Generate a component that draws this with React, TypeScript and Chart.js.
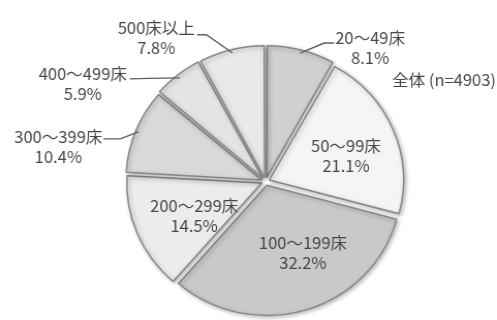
import React, { useEffect, useRef } from "react";
import { Chart, registerables } from "chart.js";

Chart.register(...registerables);

const categories = ["20～49床", "50～99床", "100～199床", "200～299床", "300～399床", "400～499床", "500床以上"];
const shares = [8.1, 21.1, 32.2, 14.5, 10.4, 5.9, 7.8];
const percentLabels = ["8.1%", "21.1%", "32.2%", "14.5%", "10.4%", "5.9%", "7.8%"];
const fills = ["#d0d0d0", "#f5f5f5", "#c9c9c9", "#ececec", "#d9d9d9", "#e4e4e4", "#e9e9e9"];
const totalLabel = "全体 (n=4903)";

const FONT = '16px "Noto Sans CJK JP", "Noto Sans", sans-serif';
const TEXT_COLOR = "#474747";
const OFFSET = 16; // Chart.js translates by offset/4
const CANVAS_W = 481;
const SX = 497 / CANVAS_W; // horizontal stretch of the original picture

// label layout (screen px): inside labels (shift from polar anchor) or outside labels with leader lines
const labelLayout: Record<number, any> = {
  0: { outside: true, line: [[24, -10], [34, -10]], text: [70, -5] },
  1: { outside: false, shift: [0, 7] },
  2: { outside: false, shift: [12, -9] },
  3: { outside: false, shift: [9, 2] },
  4: { outside: true, line: [[-18, 7], [-35, 7]], text: [-80, 15] },
  5: { outside: true, line: [[-30, 0.5], [-50, 1]], text: [-97, 6] },
  6: { outside: true, line: [[-26, -18], [-35, -18]], text: [-76, -15] },
};

const shadowPlugin = {
  id: "softShadow",
  beforeDatasetsDraw(chart: any) {
    const ctx = chart.ctx;
    ctx.save();
    ctx.shadowColor = "rgba(0,0,0,0.28)";
    ctx.shadowBlur = 4;
    ctx.shadowOffsetX = 1.5;
    ctx.shadowOffsetY = 1.5;
  },
  afterDatasetsDraw(chart: any) {
    chart.ctx.restore();
  },
};

const labelPlugin = {
  id: "pieLabels",
  afterDatasetsDraw(chart: any) {
    const ctx = chart.ctx;
    const meta = chart.getDatasetMeta(0);
    ctx.save();
    ctx.font = FONT;
    ctx.fillStyle = TEXT_COLOR;
    ctx.textAlign = "center";
    ctx.textBaseline = "middle";
    meta.data.forEach((arc: any, i: number) => {
      const p = arc.getProps(["x", "y", "startAngle", "endAngle", "outerRadius"], true);
      const mid = (p.startAngle + p.endAngle) / 2;
      const t = OFFSET / 4;
      const cos = Math.cos(mid);
      const sin = Math.sin(mid);
      const lay = labelLayout[i];
      let cx: number, cy: number;
      if (!lay.outside) {
        const r = p.outerRadius * 0.62 + t;
        cx = p.x + cos * r + lay.shift[0] / SX;
        cy = p.y + sin * r + lay.shift[1];
      } else {
        const ex = p.x + cos * (p.outerRadius + t - 1);
        const ey = p.y + sin * (p.outerRadius + t - 1);
        ctx.save();
        ctx.strokeStyle = "#5e5e5e";
        ctx.lineWidth = 1.4;
        ctx.beginPath();
        ctx.moveTo(ex, ey);
        lay.line.forEach((pt: number[]) => ctx.lineTo(ex + pt[0] / SX, ey + pt[1]));
        ctx.stroke();
        ctx.restore();
        cx = ex + lay.text[0] / SX;
        cy = ey + lay.text[1];
      }
      ctx.fillText(categories[i], cx, cy - 10);
      ctx.fillText(percentLabels[i], cx, cy + 10);
    });
    ctx.textAlign = "right";
    ctx.fillText(totalLabel, chart.width - 1, 80);
    ctx.restore();
  },
};

export default function App() {
  const ref = useRef<HTMLCanvasElement | null>(null);
  useEffect(() => {
    if (!ref.current) return;
    const chart = new Chart(ref.current, {
      type: "pie",
      data: {
        labels: categories,
        datasets: [
          {
            data: shares,
            backgroundColor: fills,
            borderColor: "#888888",
            borderWidth: 1.5,
            offset: OFFSET,
          },
        ],
      },
      options: {
        animation: false,
        responsive: true,
        maintainAspectRatio: false,
        layout: { padding: { top: 43, bottom: 0, left: 33, right: 0 } },
        plugins: {
          legend: { display: false },
          tooltip: { enabled: false },
          title: { display: false },
        },
      },
      plugins: [shadowPlugin, labelPlugin],
    });
    return () => chart.destroy();
  }, []);
  return (
    <div style={{ position: "fixed", left: 0, top: 0, width: 497, height: 320, overflow: "hidden", background: "#ffffff" }}>
      <div
        style={{
          position: "relative",
          width: CANVAS_W,
          height: 320,
          transform: `scaleX(${SX})`,
          transformOrigin: "0 0",
        }}
      >
        <canvas ref={ref} />
      </div>
    </div>
  );
}
